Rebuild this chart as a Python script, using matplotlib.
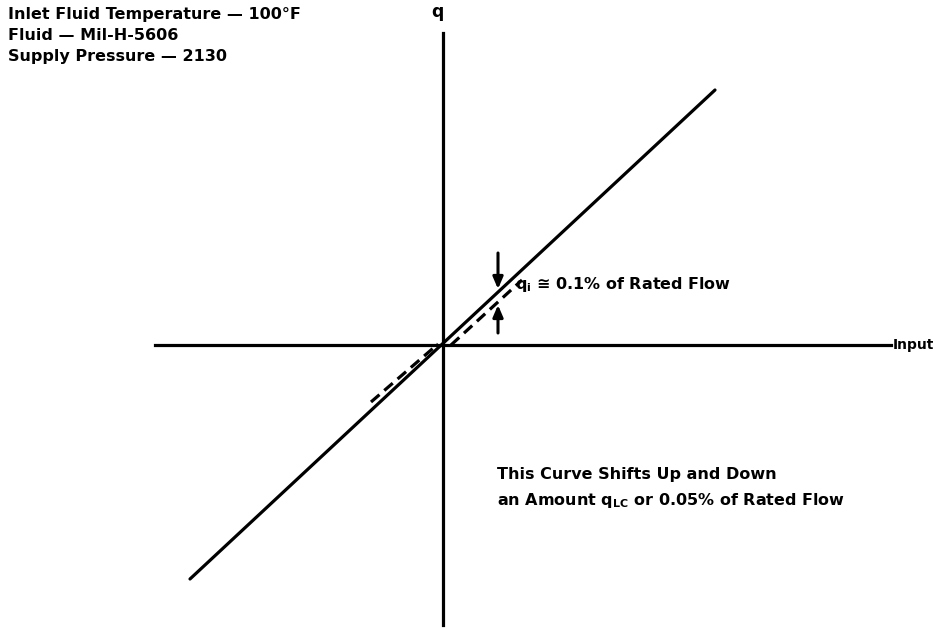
import matplotlib
matplotlib.use("Agg")
import matplotlib.pyplot as plt

plt.rcParams['font.family'] = ['DejaVu Sans']
plt.rcParams['font.weight'] = 'bold'
plt.rcParams['mathtext.fontset'] = 'custom'
plt.rcParams['mathtext.rm'] = 'DejaVu Sans:bold'
plt.rcParams['mathtext.it'] = 'DejaVu Sans:bold'
plt.rcParams['mathtext.bf'] = 'DejaVu Sans:bold'

# schematic flow gain curve (arbitrary units, origin = null)
solid_x = [-2.53, 2.72]
solid_y = [-2.34, 2.55]
# dashed (shifted) curve near null, lower-left and upper-right parts
dashed_lo_x = [-0.72, -0.05]
dashed_lo_y = [-0.57, 0.01]
dashed_hi_x = [0.08, 0.79]
dashed_hi_y = [0.00, 0.65]

# axis extents
input_axis = [-2.88, 4.48]
q_axis = [-2.80, 3.12]

# q_i offset arrows at one input value
arrow_x = 0.55
arrow_down = (0.92, 0.56)
arrow_up = (0.12, 0.40)

conditions = ["Inlet Fluid Temperature \u2014 100\u00b0F",
              "Fluid \u2014 Mil-H-5606",
              "Supply Pressure \u2014 2130"]

fig = plt.figure(figsize=(9.33, 6.29), dpi=100)
ax = fig.add_axes([0, 0, 1, 1])
ax.set_xlim(-4.43, 4.90)
ax.set_ylim(-2.84, 3.45)
ax.axis('off')

lw = 2.3
ax.plot(input_axis, [0, 0], color='black', lw=lw)
ax.plot([0, 0], q_axis, color='black', lw=lw)
ax.plot(solid_x, solid_y, color='black', lw=lw, solid_capstyle='round')
ax.plot(dashed_lo_x, dashed_lo_y, color='black', lw=lw, dashes=(3.5, 2.0))
ax.plot(dashed_hi_x, dashed_hi_y, color='black', lw=lw, dashes=(3.5, 2.0))

for y0, y1 in (arrow_down, arrow_up):
    ax.annotate('', xy=(arrow_x, y1), xytext=(arrow_x, y0),
                arrowprops=dict(arrowstyle='-|>,head_length=0.7,head_width=0.3',
                                color='black', lw=2.2, shrinkA=0, shrinkB=0))

fs = 11.5
ax.text(-0.06, 3.33, "q", fontsize=fs + 1, ha='center', va='center')
ax.text(4.50, 0.0, "Input", fontsize=fs - 1.5, ha='left', va='center')
ax.text(0.72, 0.60, "q$_\\mathrm{i}$ \u2245 0.1% of Rated Flow", fontsize=fs,
        ha='left', va='center')
ax.text(0.54, -1.30, "This Curve Shifts Up and Down", fontsize=fs,
        ha='left', va='center')
ax.text(0.54, -1.55, "an Amount q$_\\mathrm{LC}$ or 0.05% of Rated Flow", fontsize=fs,
        ha='left', va='center')

for i, line in enumerate(conditions):
    fig.text(8 / 933, 1 - (14 + 21 * i) / 629, line, fontsize=fs,
             ha='left', va='center')

fig.savefig("out.png", dpi=100)
